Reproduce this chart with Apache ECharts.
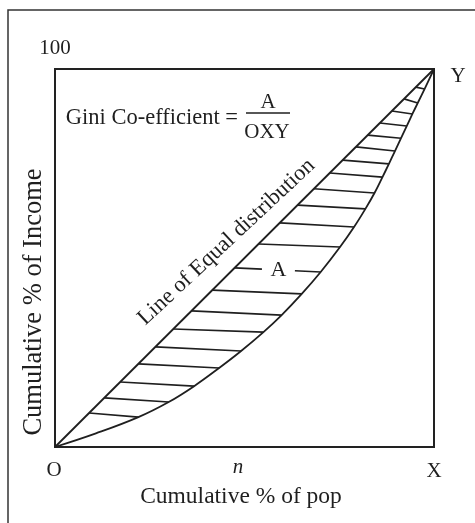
<!DOCTYPE html>
<html><head><meta charset="utf-8">
<script src="https://cdn.jsdelivr.net/npm/echarts@6/dist/echarts.min.js"></script>
<style>html,body{margin:0;padding:0;background:#fff}#c{width:475px;height:523px}</style>
</head><body><div id="c"></div>
<script>
// Line of equal distribution
const equalLine = [[0, 0], [100, 100]];
// Lorenz curve (cumulative % of pop, cumulative % of income)
const curveX = [0, 10.8, 22.0, 30.0, 36.7, 43.3, 49.1, 55.0, 59.8, 65.1, 70.1, 75.2, 78.9, 81.9, 84.3, 86.4, 88.1, 89.7, 91.3, 92.8, 94.3, 95.7, 97.5, 100];
const curveY = [0, 3.6, 7.9, 11.9, 16.1, 20.9, 25.4, 30.4, 34.9, 40.5, 46.3, 52.9, 58.2, 63.0, 67.2, 71.4, 74.9, 78.3, 81.7, 84.9, 88.1, 91.0, 94.7, 100];
// hatch lines: start on the diagonal at these values, end at curve point i+2
const hatchLeft = [9.0, 13.0, 17.2, 22.0, 26.5, 31.2, 36.0, 41.5, 47.4, 53.7, 59.3, 64.0, 68.3, 72.5, 75.9, 79.4, 82.5, 85.7, 88.9, 92.1, 95.2];
const labelHatchIndex = 8;
const labelGap = [54.6, 63.3];

const font = "'Liberation Serif', serif";
const ink = '#1f1f1f';

const curve = curveX.map((x, i) => [x, curveY[i]]);
const hatch = [];
let labelPos = null;
hatchLeft.forEach((v, i) => {
  const a = [v, v], b = curve[i + 2];
  if (i === labelHatchIndex) {
    const yAt = x => a[1] + (b[1] - a[1]) * (x - a[0]) / (b[0] - a[0]);
    hatch.push({coords: [a, [labelGap[0], yAt(labelGap[0])]]});
    hatch.push({coords: [[labelGap[1], yAt(labelGap[1])], b]});
    const mx = (labelGap[0] + labelGap[1]) / 2;
    labelPos = [mx, yAt(mx)];
  } else {
    hatch.push({coords: [a, b]});
  }
});

function txt(text, x, y, size, extra) {
  return {
    type: 'text', x: x, y: y, z: 10,
    style: Object.assign({text: text, font: size + 'px ' + font, fill: ink, textAlign: 'center', textVerticalAlign: 'middle'}, extra || {})
  };
}

const chart = echarts.init(document.getElementById('c'), null, {renderer: 'canvas'});
chart.setOption({
  animation: false,
  backgroundColor: '#fff',
  grid: {left: 55, top: 69, width: 379, height: 378, show: true, borderColor: '#222', borderWidth: 2, backgroundColor: 'transparent'},
  xAxis: {type: 'value', min: 0, max: 100, axisLabel: {show: false}, axisTick: {show: false}, splitLine: {show: false}, axisLine: {show: false}},
  yAxis: {type: 'value', min: 0, max: 100, axisLabel: {show: false}, axisTick: {show: false}, splitLine: {show: false}, axisLine: {show: false}},
  series: [
    {type: 'line', data: equalLine, symbol: 'none', lineStyle: {color: ink, width: 1.8}, silent: true},
    {type: 'line', data: curve, symbol: 'none', smooth: 0.4, lineStyle: {color: ink, width: 1.8}, silent: true},
    {type: 'lines', coordinateSystem: 'cartesian2d', data: hatch, lineStyle: {color: ink, width: 1.6, opacity: 1}, silent: true},
    {type: 'scatter', data: [labelPos], symbolSize: 0, silent: true, itemStyle: {color: ink},
     label: {show: true, position: 'inside', formatter: 'A', fontFamily: font, fontSize: 22, color: ink, textBorderWidth: 0, opacity: 1}}
  ],
  graphic: [
    {type: 'rect', z: 0, shape: {x: 8, y: 10, width: 600, height: 600}, style: {fill: 'none', stroke: '#333', lineWidth: 1.5}},
    txt('100', 55, 48, 21),
    txt('Y', 458, 76, 21),
    txt('O', 54, 470, 21),
    txt('n', 238, 467, 21, {font: 'italic 21px ' + font}),
    txt('X', 434, 471, 21),
    txt('Cumulative % of pop', 241, 497, 23.5),
    Object.assign(txt('Cumulative % of Income', 34, 302, 26.5), {rotation: Math.PI / 2}),
    txt('Gini Co-efficient =', 238, 118, 22.5, {textAlign: 'right'}),
    txt('A', 268, 102, 21),
    {type: 'line', z: 10, shape: {x1: 246, y1: 113, x2: 290, y2: 113}, style: {stroke: ink, lineWidth: 1.5}},
    txt('OXY', 267, 132, 21),
    Object.assign(txt('Line of Equal distribution', 226.5, 242, 22.5), {rotation: 43 * Math.PI / 180})
  ]
});
</script>
</body></html>
